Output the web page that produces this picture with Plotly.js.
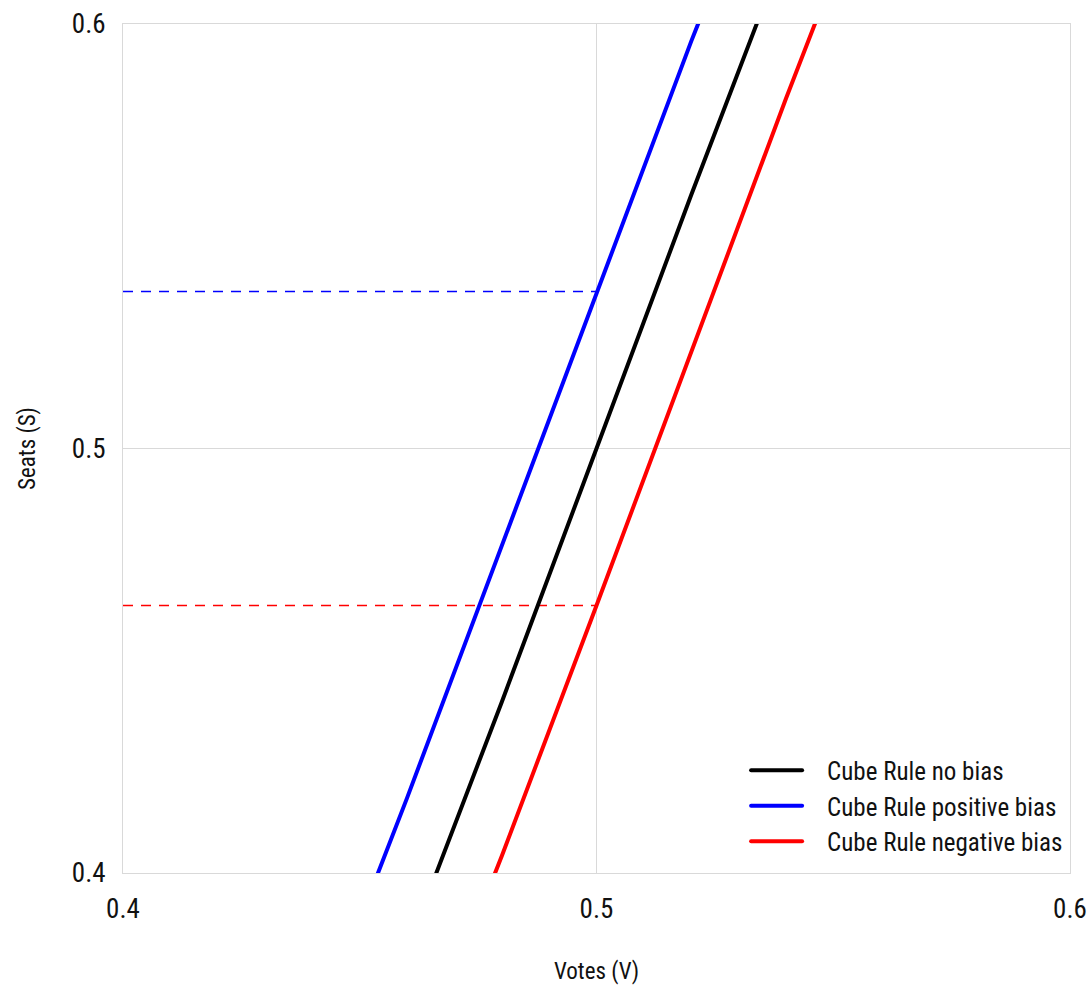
<!DOCTYPE html>
<html>
<head>
<meta charset="utf-8">
<script src="https://cdn.plot.ly/plotly-3.0.1.min.js"></script>
<style>html,body{margin:0;padding:0;background:#fff;}#chart{width:1091px;height:988px;}</style>
</head>
<body>
<div id="chart"></div>
<script>
// Votes share (V) sample points
const votes = [0.42, 0.44, 0.46, 0.48, 0.50, 0.52, 0.54, 0.56, 0.58];
// Seat shares
const seatsNoBias = [0.2754, 0.3267, 0.3820, 0.4403, 0.5000, 0.5597, 0.6180, 0.6733, 0.7246];
const seatsPosBias = [0.3056, 0.3601, 0.4177, 0.4771, 0.5370, 0.5959, 0.6524, 0.7050, 0.7533];
const seatsNegBias = [0.2465, 0.2949, 0.3476, 0.4040, 0.4630, 0.5229, 0.5824, 0.6399, 0.6944];
// Reference levels at V = 0.5
const refVotes = [0.4, 0.5];
const posBiasLevel = 0.537;
const negBiasLevel = 0.463;
const seriesNames = ["Cube Rule no bias", "Cube Rule positive bias", "Cube Rule negative bias"];
const tickVals = [0.4, 0.5, 0.6];

const FONT = "'Roboto Condensed', 'Open Sans', sans-serif";

const traces = [
  {x: refVotes, y: refVotes.map(() => posBiasLevel), mode: 'lines', showlegend: false,
   line: {color: '#0000ff', width: 1.5, dash: '10px,8px'}, hoverinfo: 'skip'},
  {x: refVotes, y: refVotes.map(() => negBiasLevel), mode: 'lines', showlegend: false,
   line: {color: '#ff0000', width: 1.5, dash: '10px,8px'}, hoverinfo: 'skip'},
  {x: votes, y: seatsNoBias, mode: 'lines', name: seriesNames[0], line: {color: '#000000', width: 4}},
  {x: votes, y: seatsPosBias, mode: 'lines', name: seriesNames[1], line: {color: '#0000ff', width: 4}},
  {x: votes, y: seatsNegBias, mode: 'lines', name: seriesNames[2], line: {color: '#ff0000', width: 4}}
];

const axisCommon = {
  tickvals: tickVals,
  ticktext: tickVals.map(v => v.toFixed(1)),
  showgrid: true,
  gridcolor: '#d9d9d9',
  gridwidth: 1,
  zeroline: false,
  showline: true,
  linecolor: '#d9d9d9',
  linewidth: 1,
  mirror: true,
  ticks: '',
  tickfont: {family: FONT, size: 27, color: '#111'}
};

const layout = {
  width: 1091, height: 988,
  margin: {l: 123, r: 21, t: 24, b: 115},
  paper_bgcolor: '#fff', plot_bgcolor: '#fff',
  font: {family: FONT, color: '#111'},
  xaxis: Object.assign({}, axisCommon, {
    range: [0.4, 0.6],
    ticklabelstandoff: 12,
    title: {text: 'Votes (V)', font: {family: FONT, size: 23, color: '#111'}, standoff: 38}
  }),
  yaxis: Object.assign({}, axisCommon, {
    range: [0.4, 0.6],
    ticklabelstandoff: 11,
    title: {text: 'Seats (S)', font: {family: FONT, size: 23, color: '#111'}, standoff: 29}
  }),
  legend: {
    x: 0.998, xanchor: 'right', y: 0.01, yanchor: 'bottom',
    bgcolor: 'rgba(255,255,255,0)', borderwidth: 0,
    font: {family: FONT, size: 25, color: '#111'},
    tracegroupgap: 0
  },
  showlegend: true
};

Plotly.newPlot('chart', traces, layout, {displayModeBar: false, staticPlot: true}).then(function () {
  // let legend samples extend past the legend box, and lengthen them like the reference
  document.querySelectorAll('#chart .legend [clip-path]').forEach(function (el) {
    el.removeAttribute('clip-path');
  });
  document.querySelectorAll('#chart .legendlines path').forEach(function (p) {
    p.setAttribute('d', 'M-36,0h51');
    p.style.strokeLinecap = 'round';
  });
});
</script>
</body>
</html>
